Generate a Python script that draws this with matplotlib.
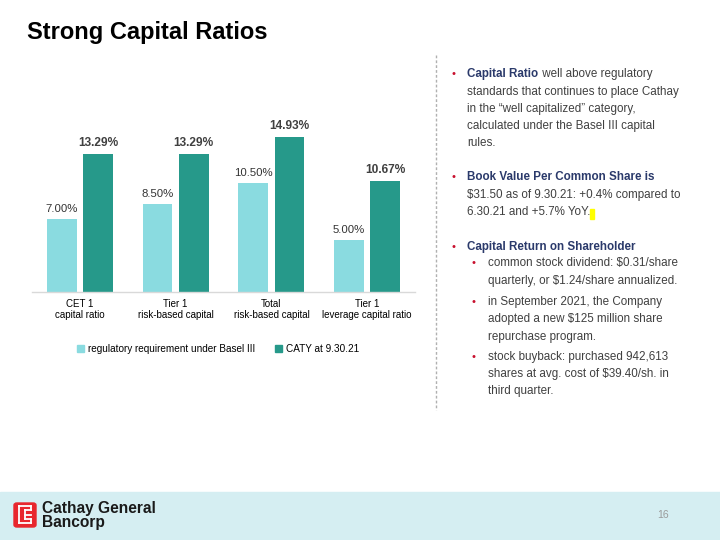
import matplotlib.pyplot as plt
import numpy as np
from matplotlib.patches import Rectangle, FancyBboxPatch, Patch

plt.rcParams['font.family'] = ['Liberation Sans', 'DejaVu Sans']

# chart data
categories = ['CET 1\ncapital ratio', 'Tier 1\nrisk-based capital',
              'Total\nrisk-based capital', 'Tier 1\nleverage capital ratio']
regulatory = [7.00, 8.50, 10.50, 5.00]
caty = [13.29, 13.29, 14.93, 10.67]
series_names = ['regulatory requirement under Basel III', 'CATY at 9.30.21']

light = '#8adbe0'
dark = '#26998a'
navy = '#2b3a6b'
grey_text = '#404040'
red = '#c8102e'

W, H = 720, 540
fig = plt.figure(figsize=(7.2, 5.4), dpi=100)


def fx(px):
    return px / W


def fy(py):
    return 1 - py / H


# title
fig.text(fx(27), fy(33), 'Strong Capital Ratios', fontsize=17, fontweight='bold',
         color='black', va='center', ha='left')

# bar chart
ax = fig.add_axes([fx(32), fy(292), fx(383), (292 - 126) / H])
x = np.arange(len(categories))
bw = 0.31
off = 0.19
b1 = ax.bar(x - off, regulatory, bw, color=light, label=series_names[0])
b2 = ax.bar(x + off, caty, bw, color=dark, label=series_names[1])
for rect, v in zip(b1, regulatory):
    ax.text(rect.get_x() + rect.get_width() / 2, v + 0.5, f'{v:.2f}%',
            ha='center', va='bottom', fontsize=8.2, color='#333333', clip_on=False)
for rect, v in zip(b2, caty):
    ax.text(rect.get_x() + rect.get_width() / 2, v + 0.5, f'{v:.2f}%',
            ha='center', va='bottom', fontsize=8.6, fontweight='bold',
            color='#404040', clip_on=False)
ax.set_xlim(-0.5, len(categories) - 0.5)
ax.set_ylim(0, 16)
ax.set_xticks(x)
ax.set_xticklabels(categories, fontsize=7, color='black', linespacing=1.15)
ax.tick_params(axis='x', length=0, pad=5)
ax.set_yticks([])
for s in ['top', 'right', 'left']:
    ax.spines[s].set_visible(False)
ax.spines['bottom'].set_color('#d9d9d9')
ax.spines['bottom'].set_linewidth(1)

leg = fig.legend(handles=[Patch(color=light), Patch(color=dark)], labels=series_names,
                 loc='center', bbox_to_anchor=(fx(218), fy(349)), ncol=2, frameon=False,
                 fontsize=7.2, handlelength=0.7, handleheight=0.7, handletextpad=0.35,
                 columnspacing=2.0)

# dashed divider
fig.add_artist(plt.Line2D([fx(436), fx(436)], [fy(55), fy(410)], color='#b0b0b0',
                          linestyle=(0, (2, 1.5)), linewidth=1))

# right-hand text
fs = 8.4


def bullet(xb, yb):
    fig.text(fx(xb), fy(yb), '\u2022', color=red, fontsize=8, va='center', ha='left')


def line(xt, yt, s, bold=False, color=grey_text):
    return fig.text(fx(xt), fy(yt), s, fontsize=fs, va='center', ha='left',
                    color=color, fontweight='bold' if bold else 'normal')


bullet(451, 74)
t = line(467, 74, 'Capital Ratio', bold=True, color=navy)
fig.canvas.draw()
bb = t.get_window_extent()
line(467 + bb.width + 1, 74, ' well above regulatory')
line(467, 91.5, 'standards that continues to place Cathay')
line(467, 109, 'in the \u201cwell capitalized\u201d category,')
line(467, 126, 'calculated under the Basel III capital')
line(467, 143, 'rules.')

bullet(451, 177)
line(467, 177, 'Book Value Per Common Share is', bold=True, color=navy)
line(467, 195, '$31.50 as of 9.30.21: +0.4% compared to')
t2 = line(467, 212, '6.30.21 and +5.7% YoY.')
fig.canvas.draw()
bb2 = t2.get_window_extent()
fig.add_artist(Rectangle((fx(467 + bb2.width), fy(219)), fx(3.5), 10 / H,
                         color='#ffff00', transform=fig.transFigure))

bullet(451, 247)
line(467, 247, 'Capital Return on Shareholder', bold=True, color=navy)
sub = [
    [263, 'common stock dividend: $0.31/share'],
    [281, 'quarterly, or $1.24/share annualized.'],
    [302, 'in September 2021, the Company'],
    [319, 'adopted a new $125 million share'],
    [337, 'repurchase program.'],
    [357, 'stock buyback: purchased 942,613'],
    [374, 'shares at avg. cost of $39.40/sh. in'],
    [391, 'third quarter.'],
]
for yy in [263, 302, 357]:
    bullet(472, yy)
for yy, s in sub:
    line(488, yy, s)

# footer band
fig.add_artist(Rectangle((0, 0), 1, (H - 492) / H, color='#d5eef2',
                         transform=fig.transFigure, zorder=0))
fig.text(fx(663), fy(515), '16', fontsize=7.5, color='#9a9a9a', ha='center', va='center')

# logo
fig.add_artist(FancyBboxPatch((fx(14), fy(527)), fx(22), 24 / H,
                              boxstyle='round,pad=0,rounding_size=0.004',
                              color='#e8262d', transform=fig.transFigure))
for seg in [[(19, 506), (31, 506)], [(19, 506), (19, 523)], [(19, 523), (31, 523)],
            [(25, 514.5), (31, 514.5)], [(31, 506), (31, 510)], [(31, 519), (31, 523)],
            [(25, 510), (31, 510)], [(25, 519), (31, 519)], [(25, 510), (25, 519)]]:
    (x0, y0), (x1, y1) = seg
    fig.add_artist(plt.Line2D([fx(x0), fx(x1)], [fy(y0), fy(y1)], color='white',
                              linewidth=1.3, solid_capstyle='projecting'))
fig.text(fx(42), fy(508.5), 'Cathay General', fontsize=11.2, fontweight='bold',
         color='#1a1a1a', va='center', ha='left')
fig.text(fx(42), fy(523), 'Bancorp', fontsize=11.2, fontweight='bold',
         color='#1a1a1a', va='center', ha='left')

fig.savefig('out.png', dpi=100)
